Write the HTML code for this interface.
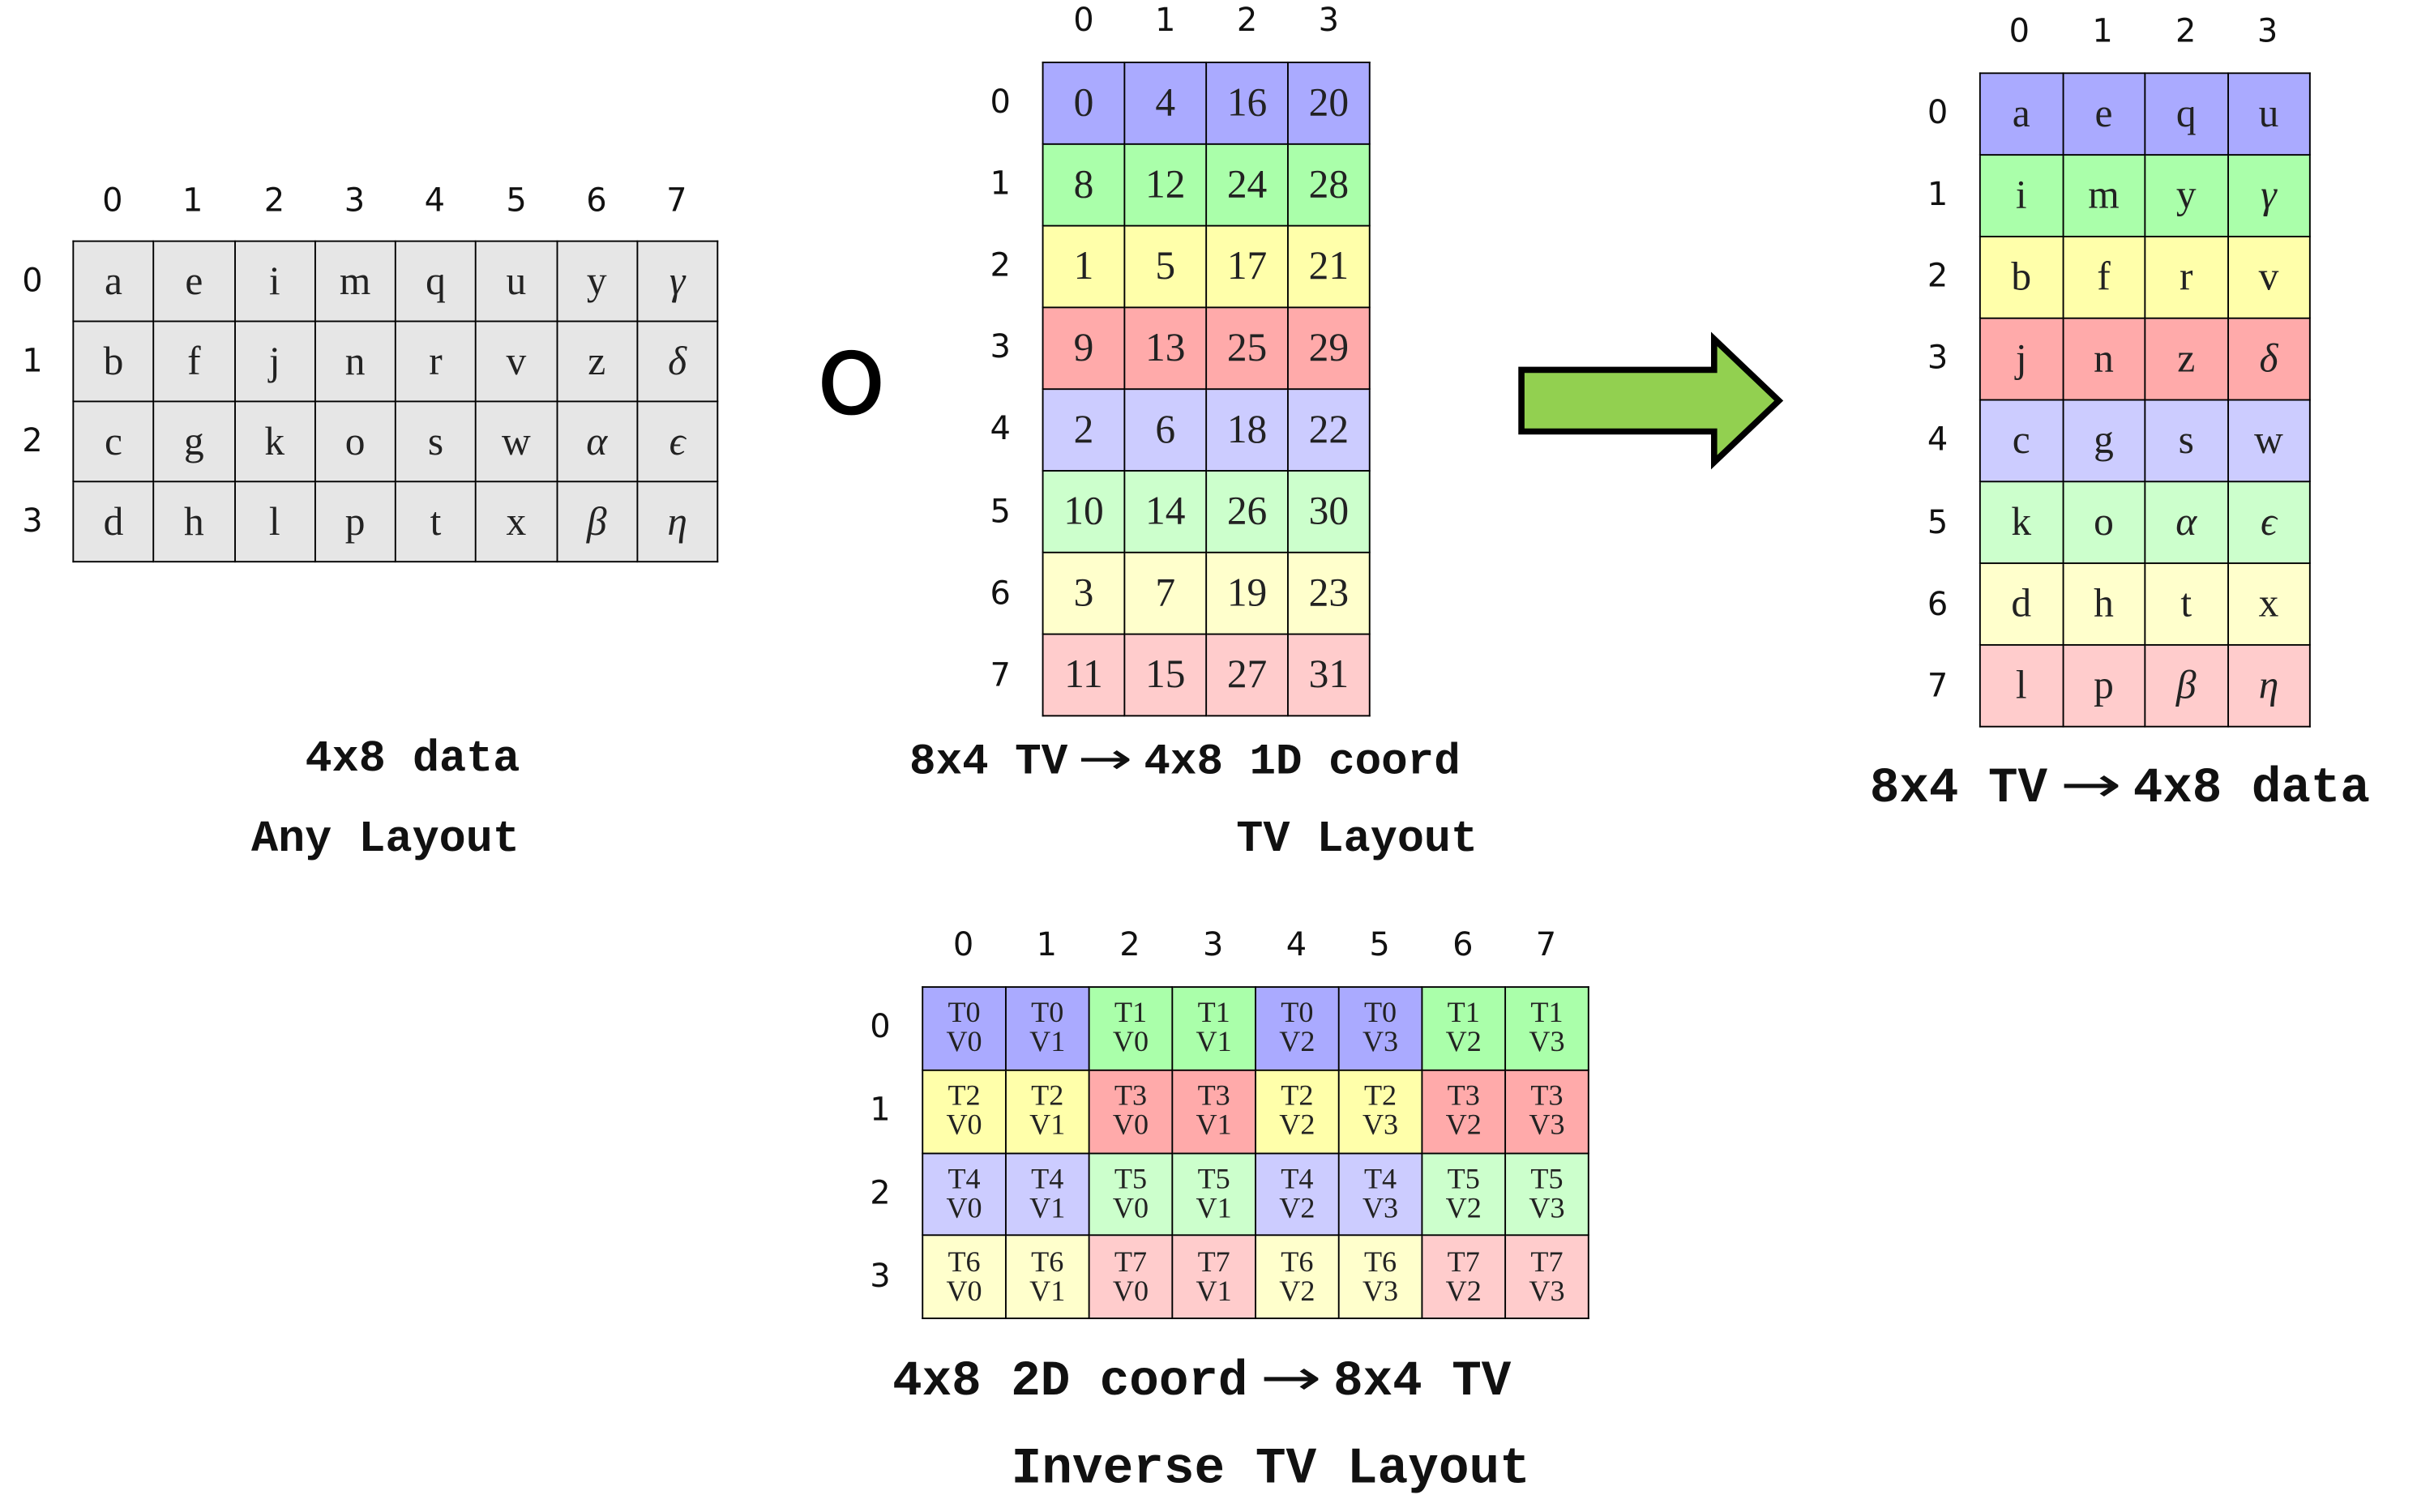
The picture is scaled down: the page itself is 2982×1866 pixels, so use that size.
<!DOCTYPE html>
<html><head><meta charset="utf-8"><style>
html,body{margin:0;padding:0;background:#fff;width:2982px;height:1866px;overflow:hidden}
#s{position:absolute;left:0;top:0;width:1568px;height:981px;transform:scale(1.9018);transform-origin:0 0}
.a{position:absolute;white-space:nowrap}
.h{font-family:"DejaVu Sans","Liberation Sans",sans-serif;font-size:21px;color:#111;transform:translate(-50%,-50%)}
table{position:absolute;border-collapse:collapse;table-layout:fixed}
td{border:1.6px solid #000;padding:0;text-align:center;vertical-align:middle;font-family:"Liberation Serif",serif;font-size:26px;color:#222}
.g td{background:#e6e6e6}
.t4 td{font-size:19px;line-height:19px}
.B{background:#aaaaff}.G{background:#aaffaa}.Y{background:#ffffaa}.R{background:#ffaaaa}
.b{background:#ccccff}.gg{background:#ccffcc}.y{background:#ffffcc}.r{background:#ffcccc}
.cap{font-family:"Liberation Mono","DejaVu Sans Mono",monospace;font-weight:bold;color:#111}
.ar{font-family:"DejaVu Sans",sans-serif;font-weight:normal;display:inline-block;transform:scaleX(1.5);margin:0 0.45em}
i{font-style:italic}
</style></head><body><div id="s">

<!-- Table 1 -->
<div class="a h" style="left:73px;top:130px">0</div><div class="a h" style="left:125px;top:130px">1</div><div class="a h" style="left:178px;top:130px">2</div><div class="a h" style="left:230px;top:130px">3</div><div class="a h" style="left:282px;top:130px">4</div><div class="a h" style="left:335px;top:130px">5</div><div class="a h" style="left:387px;top:130px">6</div><div class="a h" style="left:439px;top:130px">7</div>
<div class="a h" style="left:21px;top:182px">0</div><div class="a h" style="left:21px;top:234px">1</div><div class="a h" style="left:21px;top:286px">2</div><div class="a h" style="left:21px;top:338px">3</div>
<table class="g" style="left:47px;top:156px;width:419px;height:209px">
<tr><td>a</td><td>e</td><td>i</td><td>m</td><td>q</td><td>u</td><td>y</td><td><i>γ</i></td></tr>
<tr><td>b</td><td>f</td><td>j</td><td>n</td><td>r</td><td>v</td><td>z</td><td><i>δ</i></td></tr>
<tr><td>c</td><td>g</td><td>k</td><td>o</td><td>s</td><td>w</td><td><i>α</i></td><td><i>ϵ</i></td></tr>
<tr><td>d</td><td>h</td><td>l</td><td>p</td><td>t</td><td>x</td><td><i>β</i></td><td><i>η</i></td></tr>
</table>
<div class="a cap" style="left:198px;top:476px;font-size:29px">4x8 data</div>
<div class="a cap" style="left:163px;top:528px;font-size:29px">Any Layout</div>

<div class="a" style="left:531px;top:218px;font-family:'DejaVu Sans',sans-serif;font-size:54px;line-height:64px;-webkit-text-stroke:1.5px #000">O</div>

<!-- Table 2 -->
<div class="a h" style="left:703px;top:13px">0</div><div class="a h" style="left:756px;top:13px">1</div><div class="a h" style="left:809px;top:13px">2</div><div class="a h" style="left:862px;top:13px">3</div>
<div class="a h" style="left:649px;top:66px">0</div><div class="a h" style="left:649px;top:119px">1</div><div class="a h" style="left:649px;top:172px">2</div><div class="a h" style="left:649px;top:225px">3</div><div class="a h" style="left:649px;top:278px">4</div><div class="a h" style="left:649px;top:332px">5</div><div class="a h" style="left:649px;top:385px">6</div><div class="a h" style="left:649px;top:438px">7</div>
<table style="left:676px;top:40px;width:213px;height:425px">
<tr class="B"><td>0</td><td>4</td><td>16</td><td>20</td></tr>
<tr class="G"><td>8</td><td>12</td><td>24</td><td>28</td></tr>
<tr class="Y"><td>1</td><td>5</td><td>17</td><td>21</td></tr>
<tr class="R"><td>9</td><td>13</td><td>25</td><td>29</td></tr>
<tr class="b"><td>2</td><td>6</td><td>18</td><td>22</td></tr>
<tr class="gg"><td>10</td><td>14</td><td>26</td><td>30</td></tr>
<tr class="y"><td>3</td><td>7</td><td>19</td><td>23</td></tr>
<tr class="r"><td>11</td><td>15</td><td>27</td><td>31</td></tr>
</table>
<div class="a cap" style="left:590px;top:476px;font-size:28.5px">8x4 TV<span class="ar">→</span>4x8 1D coord</div>
<div class="a cap" style="left:802px;top:528px;font-size:29px">TV Layout</div>

<!-- Arrow -->
<svg class="a" style="left:980px;top:210px" width="185" height="100" viewBox="980 210 185 100">
<polygon points="987,240 1112,240 1112,220 1154,260 1112,300 1112,280 987,280" fill="#92d050" stroke="#000" stroke-width="4"/>
</svg>

<!-- Table 3 -->
<div class="a h" style="left:1310px;top:20px">0</div><div class="a h" style="left:1364px;top:20px">1</div><div class="a h" style="left:1418px;top:20px">2</div><div class="a h" style="left:1471px;top:20px">3</div>
<div class="a h" style="left:1257px;top:73px">0</div><div class="a h" style="left:1257px;top:126px">1</div><div class="a h" style="left:1257px;top:179px">2</div><div class="a h" style="left:1257px;top:232px">3</div><div class="a h" style="left:1257px;top:285px">4</div><div class="a h" style="left:1257px;top:339px">5</div><div class="a h" style="left:1257px;top:392px">6</div><div class="a h" style="left:1257px;top:445px">7</div>
<table style="left:1284px;top:47px;width:215px;height:425px">
<tr class="B"><td>a</td><td>e</td><td>q</td><td>u</td></tr>
<tr class="G"><td>i</td><td>m</td><td>y</td><td><i>γ</i></td></tr>
<tr class="Y"><td>b</td><td>f</td><td>r</td><td>v</td></tr>
<tr class="R"><td>j</td><td>n</td><td>z</td><td><i>δ</i></td></tr>
<tr class="b"><td>c</td><td>g</td><td>s</td><td>w</td></tr>
<tr class="gg"><td>k</td><td>o</td><td><i>α</i></td><td><i>ϵ</i></td></tr>
<tr class="y"><td>d</td><td>h</td><td>t</td><td>x</td></tr>
<tr class="r"><td>l</td><td>p</td><td><i>β</i></td><td><i>η</i></td></tr>
</table>
<div class="a cap" style="left:1213px;top:490px;font-size:32px">8x4 TV<span class="ar">→</span>4x8 data</div>

<!-- Table 4 -->
<div class="a h" style="left:625px;top:613px">0</div><div class="a h" style="left:679px;top:613px">1</div><div class="a h" style="left:733px;top:613px">2</div><div class="a h" style="left:787px;top:613px">3</div><div class="a h" style="left:841px;top:613px">4</div><div class="a h" style="left:895px;top:613px">5</div><div class="a h" style="left:949px;top:613px">6</div><div class="a h" style="left:1003px;top:613px">7</div>
<div class="a h" style="left:571px;top:666px">0</div><div class="a h" style="left:571px;top:720px">1</div><div class="a h" style="left:571px;top:774px">2</div><div class="a h" style="left:571px;top:828px">3</div>
<table class="t4" style="left:598px;top:640px;width:433px;height:216px">
<tr><td class="B">T0<br>V0</td><td class="B">T0<br>V1</td><td class="G">T1<br>V0</td><td class="G">T1<br>V1</td><td class="B">T0<br>V2</td><td class="B">T0<br>V3</td><td class="G">T1<br>V2</td><td class="G">T1<br>V3</td></tr>
<tr><td class="Y">T2<br>V0</td><td class="Y">T2<br>V1</td><td class="R">T3<br>V0</td><td class="R">T3<br>V1</td><td class="Y">T2<br>V2</td><td class="Y">T2<br>V3</td><td class="R">T3<br>V2</td><td class="R">T3<br>V3</td></tr>
<tr><td class="b">T4<br>V0</td><td class="b">T4<br>V1</td><td class="gg">T5<br>V0</td><td class="gg">T5<br>V1</td><td class="b">T4<br>V2</td><td class="b">T4<br>V3</td><td class="gg">T5<br>V2</td><td class="gg">T5<br>V3</td></tr>
<tr><td class="y">T6<br>V0</td><td class="y">T6<br>V1</td><td class="r">T7<br>V0</td><td class="r">T7<br>V1</td><td class="y">T6<br>V2</td><td class="y">T6<br>V3</td><td class="r">T7<br>V2</td><td class="r">T7<br>V3</td></tr>
</table>
<div class="a cap" style="left:579px;top:875px;font-size:32px">4x8 2D coord<span class="ar">→</span>8x4 TV</div>
<div class="a cap" style="left:656px;top:935px;font-size:33px">Inverse TV Layout</div>

</div></body></html>
